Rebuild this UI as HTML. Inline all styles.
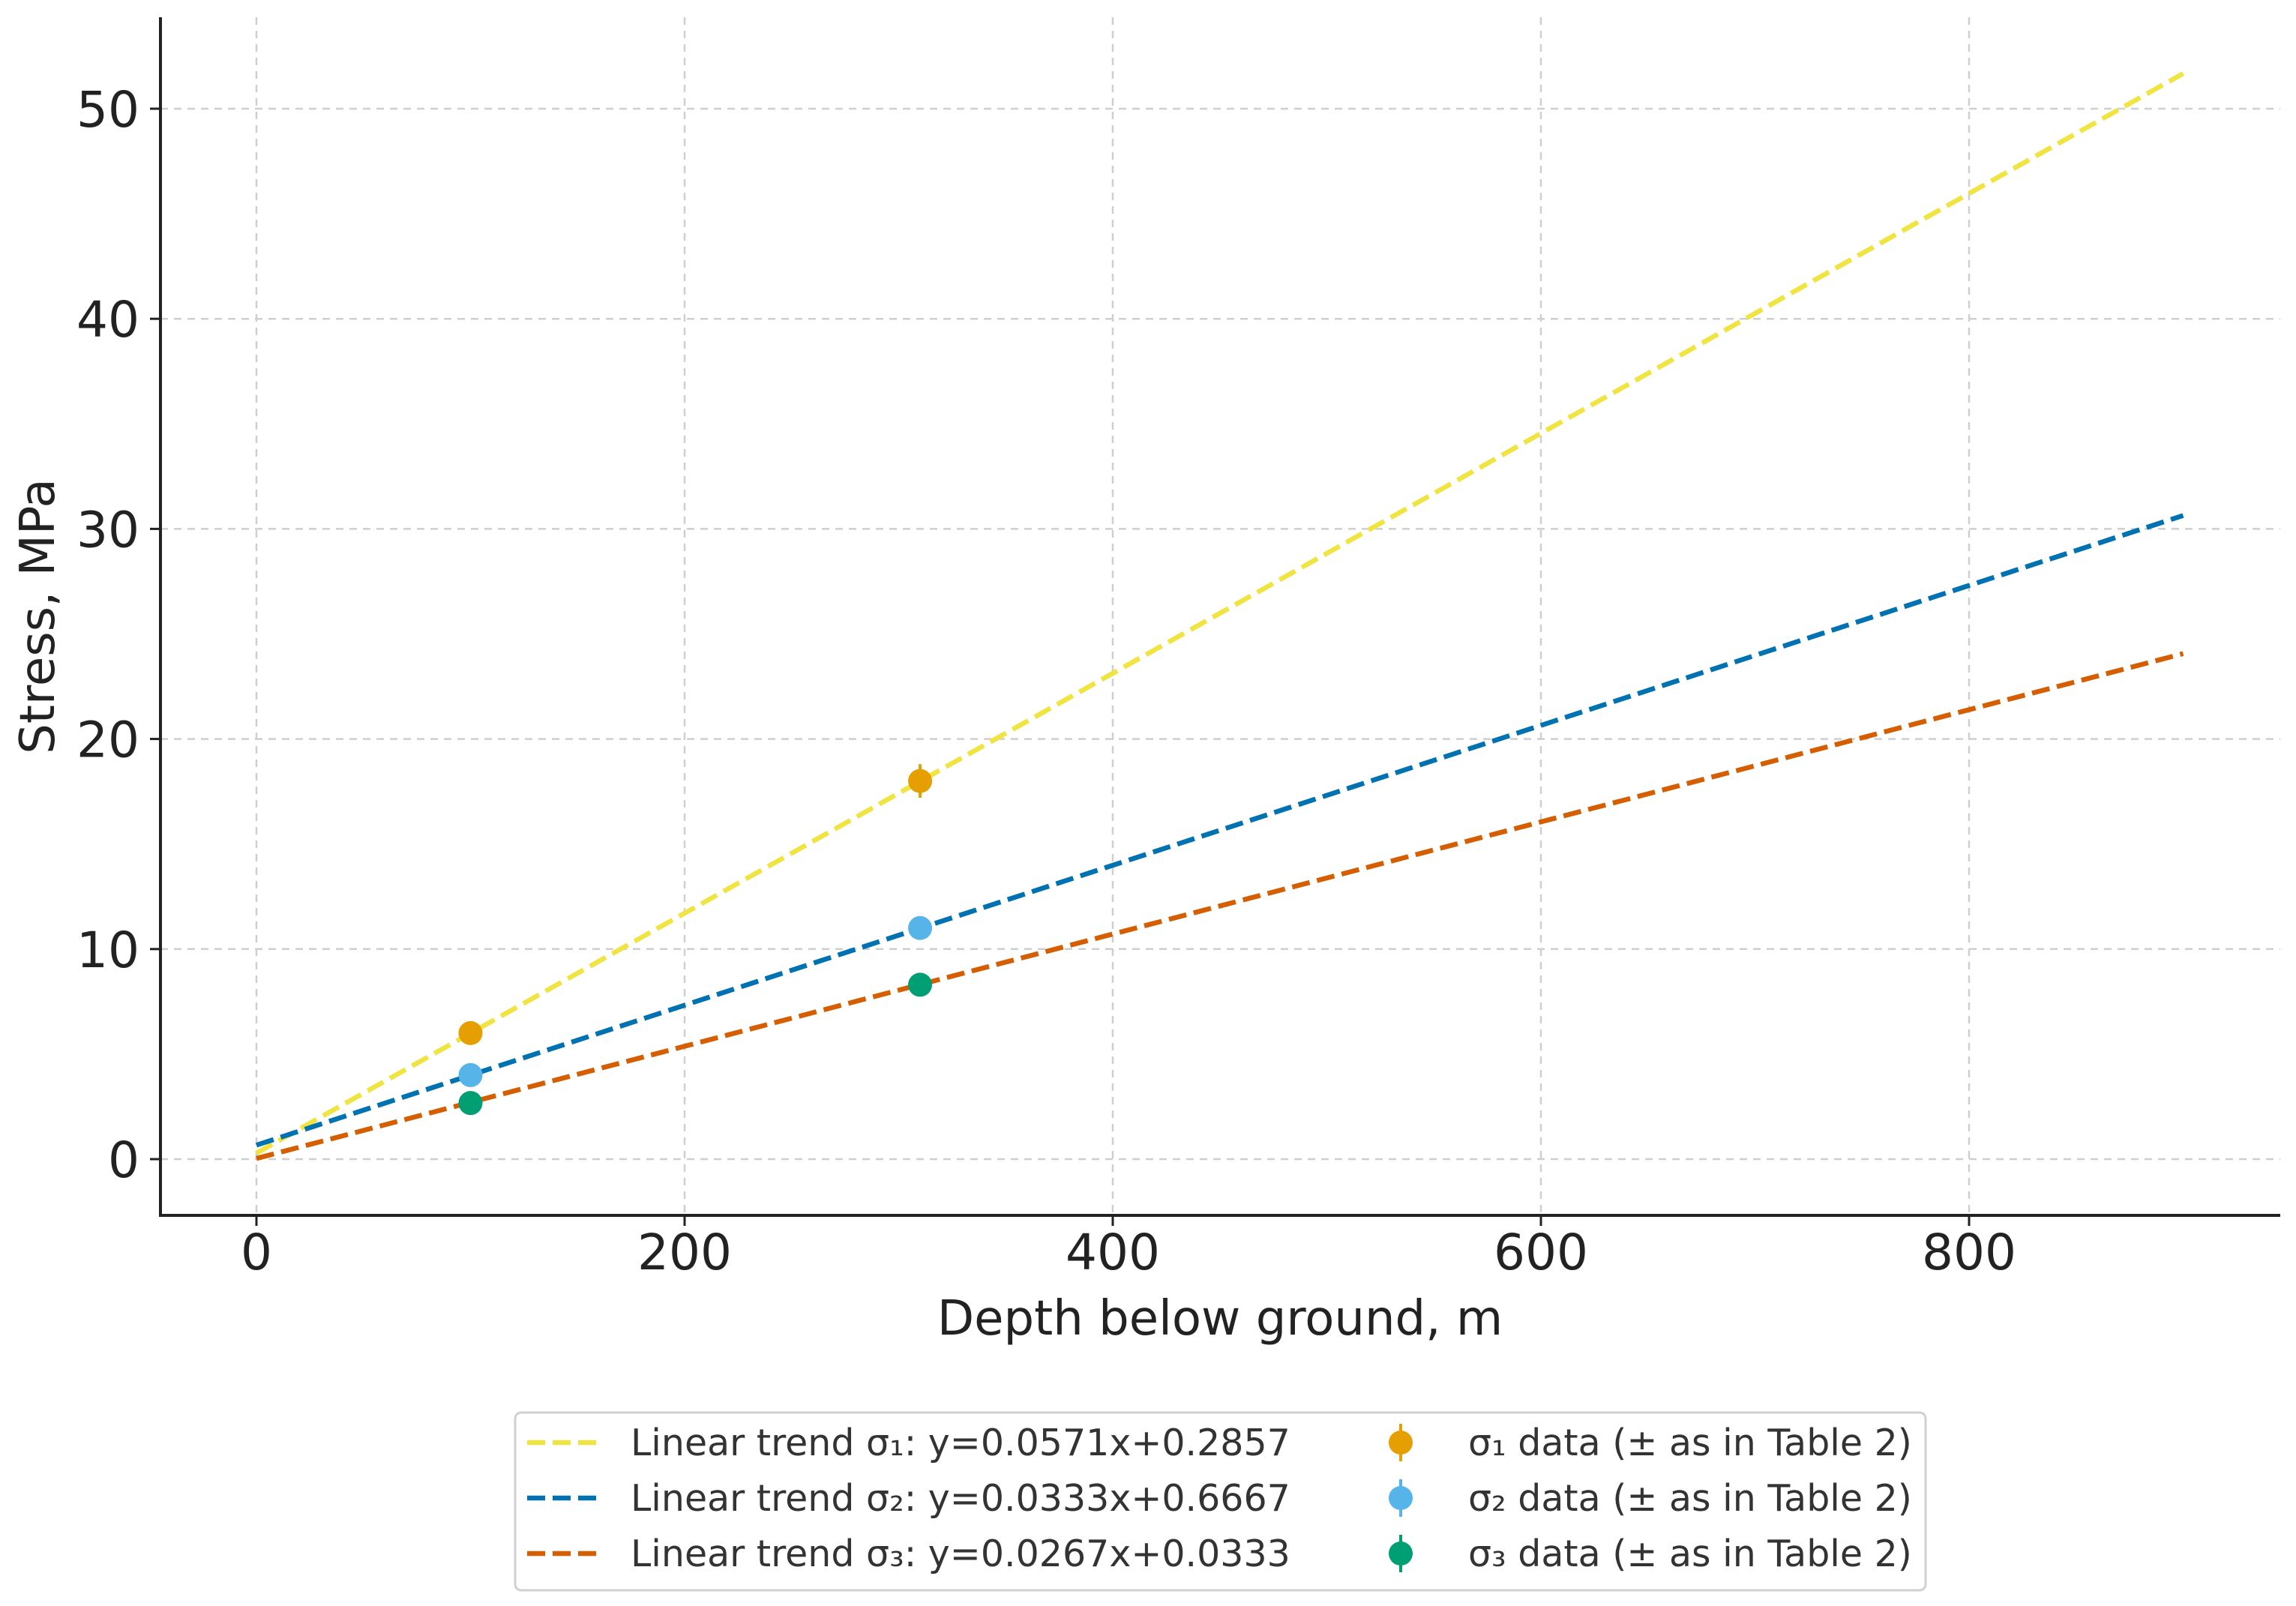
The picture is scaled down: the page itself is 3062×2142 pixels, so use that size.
<!DOCTYPE html>
<html><head><meta charset="utf-8"><style>
html,body{margin:0;padding:0;background:#fff}
svg{display:block;font-family:"DejaVu Sans","Liberation Sans",sans-serif}
</style></head><body>
<svg id="chart" width="3062" height="2142" viewBox="0 0 3062 2142" xmlns="http://www.w3.org/2000/svg">
<g id="grid"></g>
<g id="lines"></g>
<g id="points"></g>
<g id="axes"></g>
<g id="legend"></g>
</svg>
<script>
const xTicks = [0, 200, 400, 600, 800];
const yTicks = [0, 10, 20, 30, 40, 50];
const slopes = [0.0571, 0.0333, 0.0267];
const intercepts = [0.2857, 0.6667, 0.0333];
const trendLabels = ["Linear trend σ₁: y=0.0571x+0.2857","Linear trend σ₂: y=0.0333x+0.6667","Linear trend σ₃: y=0.0267x+0.0333"];
const dataLabels = ["σ₁ data (± as in Table 2)","σ₂ data (± as in Table 2)","σ₃ data (± as in Table 2)"];
const depths = [100, 310];
const s1 = [6.0, 18.0];
const s2 = [4.0, 11.0];
const s3 = [2.67, 8.3];
const err1 = [0.3, 0.8];
const err2 = [0.2, 0.4];
const err3 = [0.2, 0.3];
const xMin = 0, xMax = 900;

const NS = "http://www.w3.org/2000/svg";
const X0 = 342, KX = 2.855, Y0 = 1546, KY = 28.02;
const L = 214, R = 3041, T = 23, B = 1621;
function sx(v){return X0 + v*KX;}
function sy(v){return Y0 - v*KY;}
function mk(tag, attrs, parent, txt){
  const e = document.createElementNS(NS, tag);
  for (const k in attrs) e.setAttribute(k, attrs[k]);
  if (txt !== undefined) e.textContent = txt;
  parent.appendChild(e); return e;
}
const grid = document.getElementById('grid'), lines = document.getElementById('lines'),
      pts = document.getElementById('points'), axes = document.getElementById('axes'),
      leg = document.getElementById('legend');

xTicks.forEach(t => {
  const g = mk('line',{x1:sx(t),x2:sx(t),y1:T,y2:B,stroke:'#cfcfcf','stroke-width':2.5,'stroke-dasharray':'10,8'},grid);
  
  
  const tk = mk('line',{x1:sx(t),x2:sx(t),y1:B,y2:B+14,stroke:'#222','stroke-width':3},axes);
  
  
  const lb = mk('text',{x:sx(t),y:1693,'text-anchor':'middle','font-size':66,fill:'#222'},axes,String(t));
  
  
});
yTicks.forEach(t => {
  const g = mk('line',{x1:L,x2:R,y1:sy(t),y2:sy(t),stroke:'#cfcfcf','stroke-width':2.5,'stroke-dasharray':'10,8'},grid);
  
  
  const tk = mk('line',{x1:L-14,x2:L,y1:sy(t),y2:sy(t),stroke:'#222','stroke-width':3},axes);
  
  
  const lb = mk('text',{x:186,y:sy(t)+24,'text-anchor':'end','font-size':66,fill:'#222'},axes,String(t));
  
  
});
const sp1 = mk('line',{x1:L,x2:L,y1:T,y2:B+2,stroke:'#222','stroke-width':4},axes);


const sp2 = mk('line',{x1:L-2,x2:R,y1:B,y2:B,stroke:'#222','stroke-width':4},axes);


const xt = mk('text',{x:1627,y:1780,'text-anchor':'middle','font-size':64,fill:'#222'},axes,'Depth below ground, m');


const yt = mk('text',{x:0,y:0,'text-anchor':'middle','font-size':64,fill:'#222',transform:'translate(72,822) rotate(-90)'},axes,'Stress, MPa');



const lineColors = ['#F0E442','#0072B2','#D55E00'];
const ptColors = ['#E69F00','#56B4E9','#009E73'];
slopes.forEach((m,i) => {
  const b = intercepts[i];
  const l = mk('line',{x1:sx(xMin),y1:sy(m*xMin+b),x2:sx(xMax),y2:sy(m*xMax+b),stroke:lineColors[i],'stroke-width':6.5,'stroke-dasharray':'24,10'},lines);
  
  
});
[[s1,err1],[s2,err2],[s3,err3]].forEach((pair,i) => {
  const [vals, errs] = pair;
  vals.forEach((v,j) => {
    const e = mk('line',{x1:sx(depths[j]),x2:sx(depths[j]),y1:sy(v-errs[j]),y2:sy(v+errs[j]),stroke:ptColors[i],'stroke-width':4},pts);
    
    
    const c = mk('circle',{cx:sx(depths[j]),cy:sy(v),r:16,fill:ptColors[i]},pts);
    
    
  });
});

const box = mk('rect',{x:687,y:1884,width:1881,height:237,rx:8,fill:'#fff',stroke:'#d0d0d0','stroke-width':3},leg);


const rowsY = [1924, 1998, 2072];
rowsY.forEach((y,i) => {
  const hl = mk('line',{x1:703,x2:801,y1:y,y2:y,stroke:lineColors[i],'stroke-width':6.5,'stroke-dasharray':'24,10'},leg);
  
  
  const tx = mk('text',{x:841,y:y+17,'font-size':49,fill:'#333'},leg,trendLabels[i]);
  
  
  const eb = mk('line',{x1:1868,x2:1868,y1:y-25,y2:y+25,stroke:ptColors[i],'stroke-width':4},leg);
  
  
  const mc = mk('circle',{cx:1868,cy:y,r:16,fill:ptColors[i]},leg);
  
  
  const tx2 = mk('text',{x:1958,y:y+17,'font-size':49,fill:'#333'},leg,dataLabels[i]);
  
  
});
</script>
</body></html>
